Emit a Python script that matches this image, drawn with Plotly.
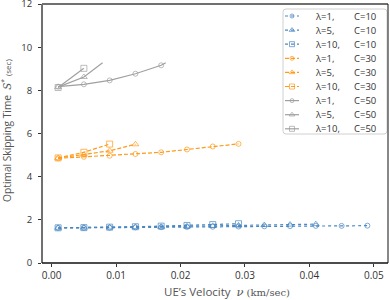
import plotly.graph_objects as go

# ---- data ----
# C = 10 (blue, dotted)
x_c10_l1 = [0.001, 0.005, 0.009, 0.013, 0.017, 0.021, 0.025, 0.029, 0.033, 0.037, 0.041, 0.045, 0.049]
y_c10_l1 = [1.62, 1.63, 1.64, 1.65, 1.66, 1.67, 1.68, 1.69, 1.70, 1.71, 1.72, 1.72, 1.73]
x_c10_l5 = [0.001, 0.005, 0.009, 0.013, 0.017, 0.021, 0.025, 0.029, 0.033, 0.037, 0.041]
y_c10_l5 = [1.63, 1.64, 1.65, 1.67, 1.68, 1.70, 1.72, 1.74, 1.76, 1.78, 1.80]
x_c10_l10 = [0.001, 0.005, 0.009, 0.013, 0.017, 0.021, 0.025, 0.029]
y_c10_l10 = [1.63, 1.64, 1.66, 1.68, 1.71, 1.74, 1.78, 1.82]

# C = 30 (orange, dashed)
x_c30_l1 = [0.001, 0.005, 0.009, 0.013, 0.017, 0.021, 0.025, 0.029]
y_c30_l1 = [4.85, 4.92, 4.97, 5.05, 5.13, 5.26, 5.40, 5.52]
x_c30_l5 = [0.001, 0.005, 0.009, 0.013]
y_c30_l5 = [4.86, 5.02, 5.20, 5.50]
x_c30_l10 = [0.001, 0.005, 0.009]
y_c30_l10 = [4.87, 5.13, 5.51]

# C = 50 (gray, solid)
x_c50_l1 = [0.001, 0.005, 0.009, 0.013, 0.017, 0.0177]
y_c50_l1 = [8.17, 8.28, 8.46, 8.77, 9.16, 9.28]
x_c50_l5 = [0.001, 0.005, 0.0079]
y_c50_l5 = [8.15, 8.62, 9.28]
x_c50_l10 = [0.001, 0.005]
y_c50_l10 = [8.13, 9.02]

x_ticks = [0.00, 0.01, 0.02, 0.03, 0.04, 0.05]
y_ticks = [0, 2, 4, 6, 8, 10, 12]

BLUE = "#4a88c2"
ORANGE = "#ff9a1a"
GRAY = "#a0a0a0"

symbols = {"1": "circle-open", "5": "triangle-up-open", "10": "square-open"}
msize = {"1": 5, "5": 6, "10": 6}

series = [
    ("10", "1", x_c10_l1, y_c10_l1, BLUE, "dot"),
    ("10", "5", x_c10_l5, y_c10_l5, BLUE, "dot"),
    ("10", "10", x_c10_l10, y_c10_l10, BLUE, "dot"),
    ("30", "1", x_c30_l1, y_c30_l1, ORANGE, "4px,2px"),
    ("30", "5", x_c30_l5, y_c30_l5, ORANGE, "4px,2px"),
    ("30", "10", x_c30_l10, y_c30_l10, ORANGE, "4px,2px"),
    ("50", "1", x_c50_l1, y_c50_l1, GRAY, "solid"),
    ("50", "5", x_c50_l5, y_c50_l5, GRAY, "solid"),
    ("50", "10", x_c50_l10, y_c50_l10, GRAY, "solid"),
]

W, H = 390, 300
ML, MR, MT, MB = 42, 2, 4, 37

fig = go.Figure()
for C, lam, xs, ys, col, dash in series:
    sizes = [msize[lam] if abs(round((x - 0.001) / 0.004) * 0.004 + 0.001 - x) < 1e-6 else 0 for x in xs]
    fig.add_trace(go.Scatter(
        x=xs, y=ys, mode="lines+markers", showlegend=False, hoverinfo="skip",
        line=dict(color=col, width=1.2, dash=dash),
        marker=dict(symbol=symbols[lam], size=sizes, color=col,
                    line=dict(color=col, width=1.0)),
    ))

# ---- custom legend drawn on an overlay axis in pixel units ----
LEG_X0, LEG_X1, LEG_Y0, LEG_Y1 = 283, 387, 9, 134
ROW0, ROW_STEP = 16, 14.1
SAMPLE_X = [285, 292, 299]
r = 3
box_path = (f"M {LEG_X0+r},{LEG_Y0} L {LEG_X1-r},{LEG_Y0} Q {LEG_X1},{LEG_Y0} {LEG_X1},{LEG_Y0+r} "
            f"L {LEG_X1},{LEG_Y1-r} Q {LEG_X1},{LEG_Y1} {LEG_X1-r},{LEG_Y1} "
            f"L {LEG_X0+r},{LEG_Y1} Q {LEG_X0},{LEG_Y1} {LEG_X0},{LEG_Y1-r} "
            f"L {LEG_X0},{LEG_Y0+r} Q {LEG_X0},{LEG_Y0} {LEG_X0+r},{LEG_Y0} Z")
fig.add_shape(type="path", xref="x2", yref="y2", path=box_path,
              fillcolor="rgba(255,255,255,0.85)", line=dict(color="#d0d0d0", width=1), layer="below")

for i, (C, lam, xs, ys, col, dash) in enumerate(series):
    ry = ROW0 + i * ROW_STEP
    fig.add_trace(go.Scatter(
        x=SAMPLE_X, y=[ry] * 3, xaxis="x2", yaxis="y2", mode="lines+markers",
        showlegend=False, hoverinfo="skip",
        line=dict(color=col, width=1.2, dash=dash),
        marker=dict(symbol=symbols[lam], size=[0, msize[lam] - 1, 0], color=col,
                    line=dict(color=col, width=1.0)),
    ))
    fig.add_annotation(xref="x2", yref="y2", x=313, y=ry, xanchor="left", yanchor="middle",
                       showarrow=False, text=f"λ={lam},", font=dict(size=9.5, color="#333"))
    fig.add_annotation(xref="x2", yref="y2", x=352, y=ry, xanchor="left", yanchor="middle",
                       showarrow=False, text=f"C={C}", font=dict(size=9.5, color="#333"))

fig.update_layout(
    width=W, height=H,
    margin=dict(l=ML, r=MR, t=MT, b=MB, autoexpand=False),
    paper_bgcolor="white", plot_bgcolor="white",
    font=dict(family="Open Sans, DejaVu Sans, sans-serif", size=9, color="#333"),
    showlegend=False,
    xaxis=dict(
        range=[-0.0015, 0.0522], tickvals=x_ticks,
        ticktext=[f"{v:.2f}" for v in x_ticks], tickfont=dict(size=10),
        showgrid=False, zeroline=False, showline=False,
        ticks="outside", ticklen=3, tickcolor="#333", tickwidth=1,
        automargin=False, ticklabeloverflow="allow",
    ),
    yaxis=dict(
        range=[0, 12.001], tickvals=y_ticks, tickfont=dict(size=9.5),
        showgrid=False, zeroline=False, showline=False,
        ticks="outside", ticklen=3, tickcolor="#333", tickwidth=1,
        automargin=False, ticklabeloverflow="allow", ticklabelstandoff=4,
    ),
    xaxis2=dict(range=[ML, W - MR], overlaying="x", visible=False, fixedrange=True),
    yaxis2=dict(range=[H - MB, MT], overlaying="y", visible=False, fixedrange=True),
)

# axis titles as annotations
fig.add_annotation(
    xref="paper", yref="paper", x=0.535, y=0, yshift=-28, yanchor="middle", showarrow=False,
    text="UE’s Velocity  <i><span style='font-family:DejaVu Serif'>ν</span></i> <span style='font-family:DejaVu Serif;font-size:10px'>(km/sec)</span>",
    font=dict(size=11.5, color="#555"),
)
fig.add_annotation(
    xref="paper", yref="paper", x=0, xshift=-35, y=0.51, xanchor="center", textangle=-90, showarrow=False,
    text="Optimal Skipping Time  <i><span style='font-family:DejaVu Serif'>S</span></i><sup>*</sup> <span style='font-size:8px'>(sec)</span>",
    font=dict(size=10.2, color="#555"),
)

# frame: gray left/top, black bottom/right
fig.add_shape(type="line", xref="paper", yref="paper", x0=0, x1=0, y0=0, y1=1,
              line=dict(color="#707070", width=2))
fig.add_shape(type="line", xref="paper", yref="paper", x0=0, x1=1, y0=1, y1=1,
              line=dict(color="#707070", width=2))
fig.add_shape(type="line", xref="paper", yref="paper", x0=0, x1=1, y0=0, y1=0,
              line=dict(color="#111", width=1.3))
fig.add_shape(type="line", xref="paper", yref="paper", x0=1, x1=1, y0=0, y1=1,
              line=dict(color="#111", width=1))

fig.write_html("out.html", config={"displayModeBar": False},
               post_script="document.body.style.margin='0';document.body.style.overflow='hidden';")
